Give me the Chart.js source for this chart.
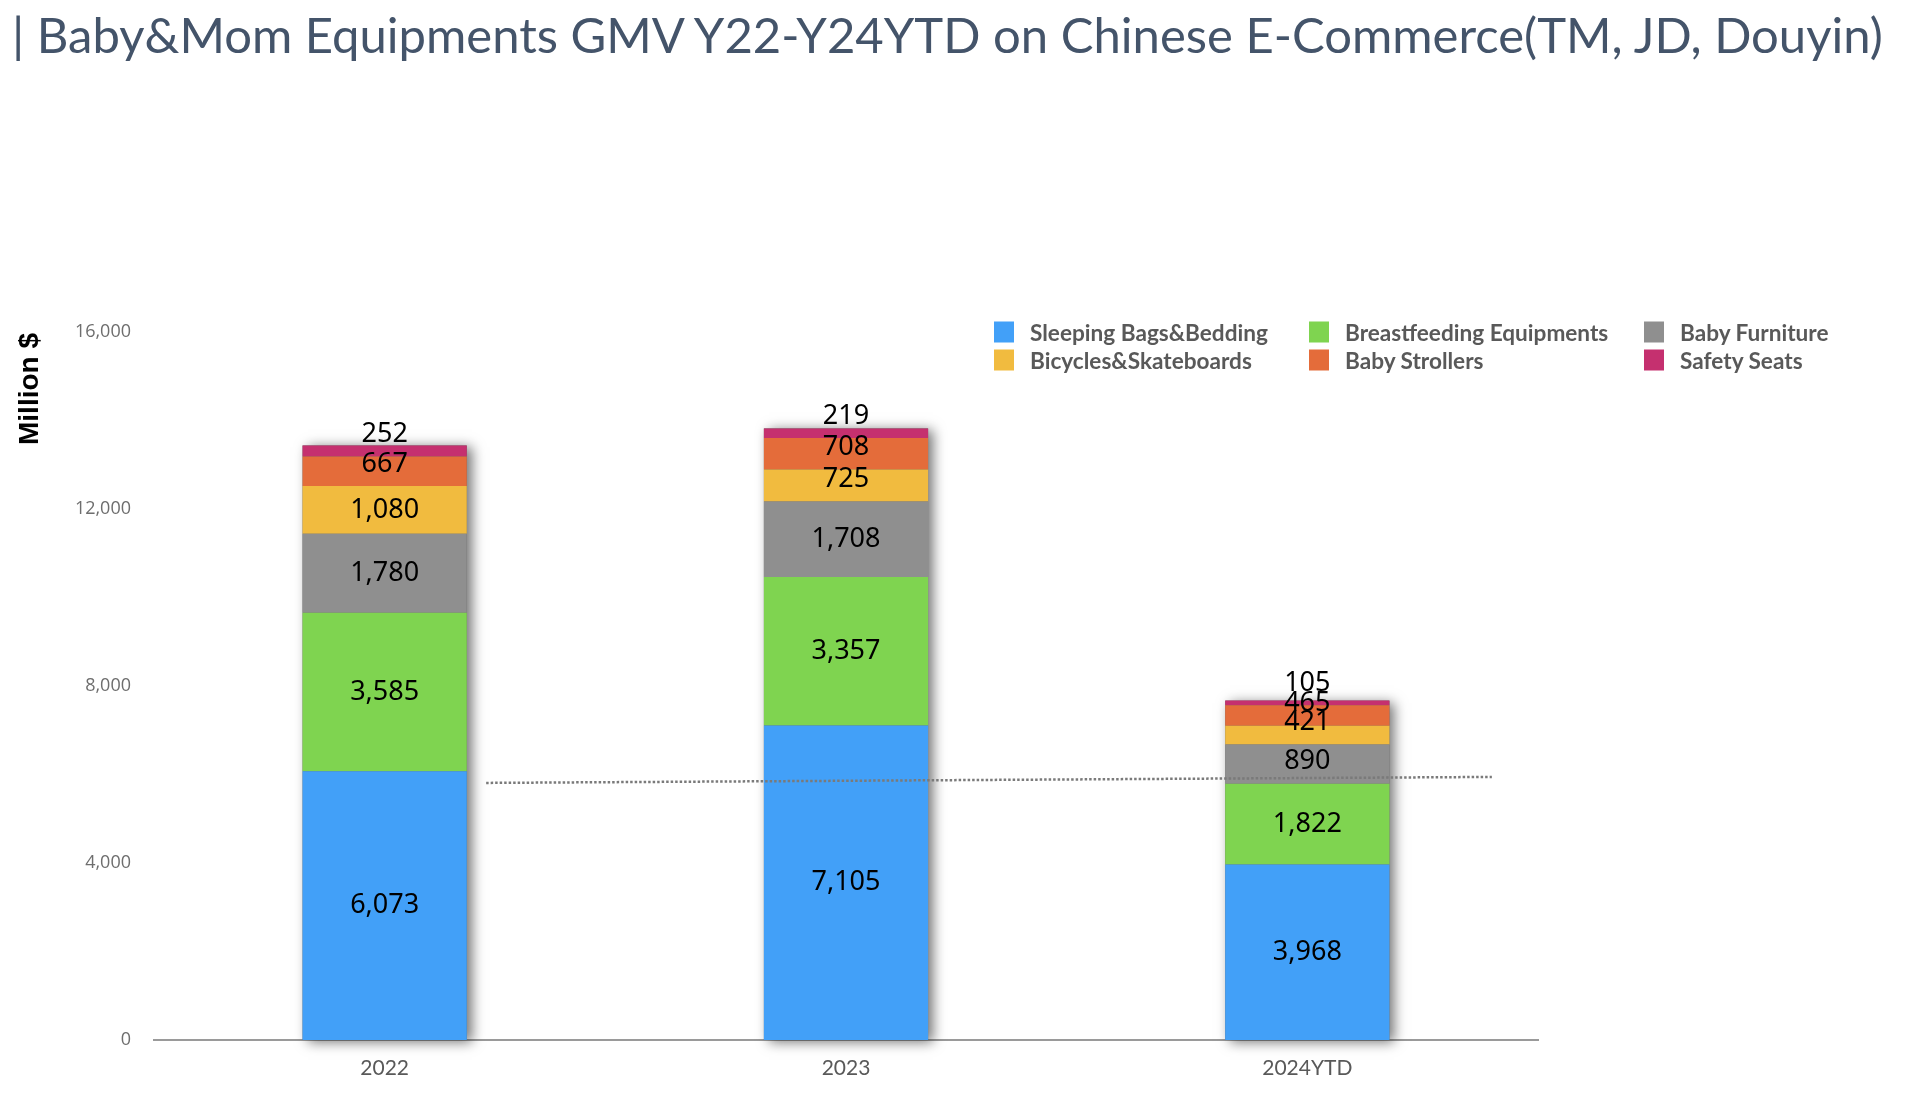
<!DOCTYPE html>
<html><head><meta charset="utf-8">
<script src="https://cdn.jsdelivr.net/npm/chart.js@4.4.1/dist/chart.umd.min.js"></script>
<style>
html,body{margin:0;padding:0;background:#fff;width:1920px;height:1111px;overflow:hidden;}
#wrap{position:absolute;left:0;top:0;width:1920px;height:1111px;}
#title{position:absolute;left:12px;top:5px;font-family:Lato;font-size:49px;color:#44546a;white-space:nowrap;}
#ytitle{position:absolute;left:29px;top:389px;transform:translate(-50%,-50%) rotate(-90deg);font-family:"Liberation Sans";font-weight:bold;font-size:28px;color:#000;white-space:nowrap;}
.leg{position:absolute;font-family:Lato;font-weight:700;font-size:22.6px;color:#595959;white-space:nowrap;display:flex;align-items:center;transform:translateY(-50%);}
.leg .box{width:20px;height:21px;margin-right:16px;display:inline-block;}
</style></head>
<body>
<div id="wrap"><canvas id="c"></canvas></div>
<div id="title">| Baby&amp;Mom Equipments GMV Y22-Y24YTD on Chinese E-Commerce(TM, JD, Douyin)</div>
<div id="ytitle">Million $</div>
<div id="legend"></div>
<script>
const categories = ['2022', '2023', '2024YTD'];
const seriesNames = ['Sleeping Bags&Bedding', 'Breastfeeding Equipments', 'Baby Furniture', 'Bicycles&Skateboards', 'Baby Strollers', 'Safety Seats'];
const sleepingBags = [6073, 7105, 3968];
const breastfeeding = [3585, 3357, 1822];
const furniture = [1780, 1708, 890];
const bicycles = [1080, 725, 421];
const strollers = [667, 708, 465];
const safetySeats = [252, 219, 105];
const trendX = [0.22, 2.4];
const trendY = [5810, 5945];
const yTicks = [0, 4000, 8000, 12000, 16000];

const seriesValues = [sleepingBags, breastfeeding, furniture, bicycles, strollers, safetySeats];
const colors = ['#42a0f8', '#7fd450', '#8f8f8f', '#f1bb3f', '#e46c3a', '#c5306f'];

// HTML legend (3 columns x 2 rows)
const legCols = [994, 1309, 1644], legRows = [332, 360];
const legEl = document.getElementById('legend');
seriesNames.forEach((n, i) => {
  const d = document.createElement('div');
  d.className = 'leg';
  d.style.left = legCols[i % 3] + 'px';
  d.style.top = legRows[Math.floor(i / 3)] + 'px';
  const b = document.createElement('span');
  b.className = 'box'; b.style.background = colors[i];
  d.appendChild(b);
  d.appendChild(document.createTextNode(n));
  legEl.appendChild(d);
});

const shadowPlugin = {
  id: 'stackShadow',
  beforeDatasetsDraw(chart) {
    const ctx = chart.ctx;
    const metas = seriesValues.map((_, i) => chart.getDatasetMeta(i));
    categories.forEach((_, j) => {
      let top = Infinity, bottom = -Infinity, x = 0, w = 0;
      metas.forEach(m => {
        const el = m.data[j];
        top = Math.min(top, el.y, el.base);
        bottom = Math.max(bottom, el.y, el.base);
        x = el.x; w = el.width;
      });
      ctx.save();
      ctx.shadowColor = 'rgba(0,0,0,0.55)';
      ctx.shadowBlur = 12;
      ctx.shadowOffsetX = 5;
      ctx.shadowOffsetY = 2;
      ctx.fillStyle = '#666';
      ctx.fillRect(x - w / 2, top, w, bottom - top);
      ctx.restore();
    });
  }
};

const labelPlugin = {
  id: 'segLabels',
  afterDatasetsDraw(chart) {
    const ctx = chart.ctx;
    ctx.save();
    ctx.font = '27px "Noto Sans"';
    ctx.fillStyle = '#000';
    ctx.textAlign = 'center';
    ctx.textBaseline = 'middle';
    seriesValues.forEach((vals, i) => {
      const m = chart.getDatasetMeta(i);
      m.data.forEach((el, j) => {
        const h = el.base - el.y;
        const cy = el.base - Math.max(h, 44) / 2;
        ctx.fillText(vals[j].toLocaleString('en-US'), el.x, cy);
      });
    });
    ctx.restore();
  }
};

const datasets = seriesValues.map((vals, i) => ({
  type: 'bar',
  label: seriesNames[i],
  data: vals,
  backgroundColor: colors[i],
  borderWidth: 0,
  grouped: false,
  barPercentage: 0.356,
  categoryPercentage: 1,
  xAxisID: 'x',
  yAxisID: 'y',
  order: 1
}));
datasets.push({
  type: 'line',
  label: 'trend',
  data: trendX.map((x, k) => ({ x: x, y: trendY[k] })),
  xAxisID: 'xl',
  yAxisID: 'y',
  borderColor: '#7a7a7a',
  borderWidth: 2.5,
  borderDash: [2.5, 2],
  pointRadius: 0,
  fill: false,
  order: 0
});

new Chart(document.getElementById('c'), {
  data: { labels: categories, datasets: datasets },
  plugins: [shadowPlugin, labelPlugin],
  options: {
    responsive: true,
    maintainAspectRatio: false,
    animation: false,
    layout: { padding: { top: 332, right: 382, left: 0, bottom: 0 } },
    plugins: { legend: { display: false }, tooltip: { enabled: false }, title: { display: false } },
    scales: {
      x: {
        type: 'category',
        offset: true,
        stacked: true,
        grid: { display: false, drawTicks: false },
        border: { display: true, color: '#9a9a9a', width: 2 },
        ticks: { color: '#595959', font: { family: 'Lato', size: 21 }, padding: 16 },
        afterFit(s) { s.height = 71; }
      },
      xl: {
        type: 'linear',
        display: false,
        min: -0.5,
        max: 2.5
      },
      y: {
        stacked: true,
        min: yTicks[0],
        max: yTicks[yTicks.length - 1],
        afterBuildTicks(s) { s.ticks = yTicks.map(v => ({ value: v })); },
        grid: { display: false, drawTicks: false },
        border: { display: false },
        ticks: {
          color: '#6e6e6e',
          font: { family: 'Open Sans', size: 18 },
          padding: 23,
          callback: v => v.toLocaleString('en-US')
        },
        afterFit(s) { s.width = 154; }
      }
    }
  }
});
</script>
</body></html>
